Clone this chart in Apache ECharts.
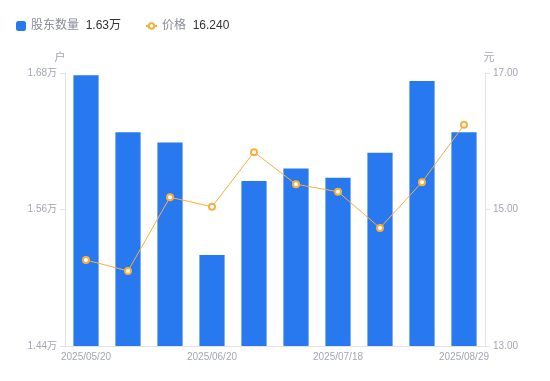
<!DOCTYPE html>
<html><head><meta charset="utf-8">
<script src="https://cdn.jsdelivr.net/npm/echarts@6/dist/echarts.min.js"></script>
<style>html,body{margin:0;padding:0;background:#fff}#c{width:550px;height:381px}</style>
</head><body><div id="c"></div>
<script>
var categories = ['2025/05/20','2025/05/30','2025/06/10','2025/06/20','2025/06/30','2025/07/10','2025/07/18','2025/07/31','2025/08/15','2025/08/29'];
var holders = [1.678, 1.628, 1.619, 1.520, 1.585, 1.596, 1.588, 1.610, 1.673, 1.628];
var prices = [14.26, 14.10, 15.18, 15.04, 15.84, 15.37, 15.26, 14.73, 15.40, 16.24];
var holderTicks = [1.44, 1.56, 1.68];
var priceTicks = [13, 15, 17];
var legendValues = {'股东数量': '1.63万', '价格': '16.240'};

var chart = echarts.init(document.getElementById('c'));
var font = '"Liberation Sans", Arial, "Noto Sans CJK SC", sans-serif';
var legendText = {rich: {n: {color: '#8a8d99', fontSize: 12, fontFamily: font}, v: {color: '#333', fontSize: 12, fontFamily: font}}};
function legendFmt(n) { return '{n|' + n + '}  {v|' + legendValues[n] + '}'; }
chart.setOption({
  animation: false,
  textStyle: {fontFamily: font},
  legend: [{
    left: 11, top: 15, itemWidth: 10, itemHeight: 10,
    data: [{name: '股东数量', icon: 'roundRect'}],
    formatter: legendFmt, textStyle: legendText
  }, {
    left: 140, top: 15, itemWidth: 11, itemHeight: 7,
    data: [{name: '价格'}],
    formatter: legendFmt, textStyle: legendText
  }],
  grid: {left: 65, right: 65, top: 73, bottom: 35},
  xAxis: {
    type: 'category', data: categories,
    axisLine: {lineStyle: {color: '#e3e3e3'}},
    axisTick: {show: false},
    axisLabel: {interval: 2, color: '#a3a6b4', fontSize: 10, margin: 6, fontFamily: font}
  },
  yAxis: [{
    type: 'value', name: '户', min: 1.44, max: 1.68, interval: 0.12,
    nameTextStyle: {color: '#a3a6b4', fontSize: 11, padding: [0, 10, 0, 0]},
    nameGap: 10,
    axisLine: {show: true, lineStyle: {color: '#e3e3e3'}},
    axisTick: {show: true, length: 5, lineStyle: {color: '#e3e3e3'}},
    splitLine: {show: false},
    axisLabel: {color: '#a3a6b4', fontSize: 10, margin: 8, fontFamily: font, formatter: function (v) { return v.toFixed(2) + '万'; }}
  }, {
    type: 'value', name: '元', min: 13, max: 17, interval: 2,
    nameTextStyle: {color: '#a3a6b4', fontSize: 11, padding: [0, 0, 0, 8]},
    nameGap: 10,
    axisLine: {show: true, lineStyle: {color: '#e3e3e3'}},
    axisTick: {show: true, length: 5, lineStyle: {color: '#e3e3e3'}},
    splitLine: {show: false},
    axisLabel: {color: '#a3a6b4', fontSize: 10, margin: 8, fontFamily: font, formatter: function (v) { return v.toFixed(2); }}
  }],
  series: [{
    name: '股东数量', type: 'bar', data: holders, barWidth: '60%',
    itemStyle: {color: '#2878f0'}
  }, {
    name: '价格', type: 'line', yAxisIndex: 1, data: prices,
    symbol: 'emptyCircle', symbolSize: 6,
    lineStyle: {color: '#f8b03c', width: 1},
    itemStyle: {color: '#f8b03c', borderWidth: 2}
  }]
});
</script></body></html>
